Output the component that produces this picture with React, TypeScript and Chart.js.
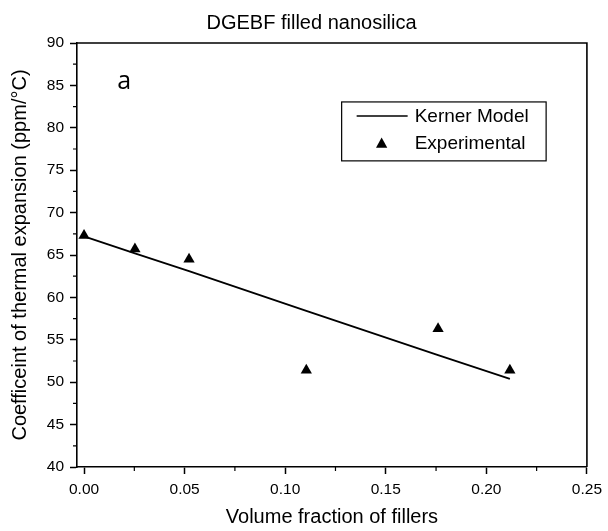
import React, { useEffect, useRef } from "react";
import { Chart, registerables } from "chart.js";

Chart.register(...registerables);

const chartTitle = "DGEBF filled nanosilica";
const xAxisTitle = "Volume fraction of fillers";
const yAxisTitle = "Coefficeint of thermal expansion (ppm/°C)";
const panelLabel = "a";
const seriesLabels = ["Kerner Model", "Experimental"];

const expX = [0, 0.0253, 0.0522, 0.1105, 0.176, 0.2117];
const expY = [67.3, 65.7, 64.5, 51.4, 56.3, 51.4];
const kernerX = [0, 0.0253, 0.0522, 0.1105, 0.176, 0.2117];
const kernerY = [67.2, 65.2, 63.1, 58.4, 53.2, 50.4];

const xTicks = [0, 0.05, 0.1, 0.15, 0.2, 0.25];
const yTicks = [40, 45, 50, 55, 60, 65, 70, 75, 80, 85, 90];
const xMinorTicks = [0.025, 0.075, 0.125, 0.175, 0.225];
const yMinorTicks = [42.5, 47.5, 52.5, 57.5, 62.5, 67.5, 72.5, 77.5, 82.5, 87.5];
const xRange = [-0.0035, 0.25];
const yRange = [40, 90];
const panelLabelAt = [0.02, 85.4];

const FONT = "'Liberation Sans', Arial, sans-serif";

const decorPlugin = {
  id: "decor",
  afterDraw(chart: any) {
    const { ctx, chartArea: ca, scales } = chart;
    const xs = scales.x;
    const ys = scales.y;
    ctx.save();
    ctx.strokeStyle = "#000";
    ctx.lineWidth = 1.6;
    ctx.beginPath();
    ctx.moveTo(ca.left, ca.top);
    ctx.lineTo(ca.right, ca.top);
    ctx.lineTo(ca.right, ca.bottom);
    ctx.stroke();

    ctx.lineWidth = 1.2;
    ctx.beginPath();
    xMinorTicks.forEach((v) => {
      const px = xs.getPixelForValue(v);
      ctx.moveTo(px, ca.bottom);
      ctx.lineTo(px, ca.bottom + 4);
    });
    yMinorTicks.forEach((v) => {
      const py = ys.getPixelForValue(v);
      ctx.moveTo(ca.left, py);
      ctx.lineTo(ca.left - 4, py);
    });
    ctx.stroke();

    // chart title
    ctx.fillStyle = "#000";
    ctx.font = `20px ${FONT}`;
    ctx.textAlign = "center";
    ctx.textBaseline = "middle";
    ctx.fillText(chartTitle, ca.left + (ca.right - ca.left) * 0.46, ca.top / 2 + 2);

    ctx.font = "25px 'Open Sans', sans-serif";
    ctx.fillText(panelLabel, xs.getPixelForValue(panelLabelAt[0]), ys.getPixelForValue(panelLabelAt[1]));

    // legend box
    const w = ca.right - ca.left;
    const h = ca.bottom - ca.top;
    const bl = ca.left + 0.519 * w;
    const br = ca.left + 0.92 * w;
    const bt = ca.top + 0.139 * h;
    const bb = ca.top + 0.278 * h;
    ctx.lineWidth = 1.2;
    ctx.strokeRect(bl, bt, br - bl, bb - bt);
    const row1 = bt + 14;
    const row2 = bt + 41;
    ctx.lineWidth = 1.6;
    ctx.beginPath();
    ctx.moveTo(bl + 15, row1);
    ctx.lineTo(bl + 66, row1);
    ctx.stroke();
    const tx = bl + 40;
    const r = 6.5;
    ctx.beginPath();
    ctx.moveTo(tx, row2 - r * 0.75 - 0.5);
    ctx.lineTo(tx + r * 0.866, row2 + r * 0.75);
    ctx.lineTo(tx - r * 0.866, row2 + r * 0.75);
    ctx.closePath();
    ctx.fill();
    ctx.font = `19px ${FONT}`;
    ctx.textAlign = "left";
    ctx.textBaseline = "middle";
    ctx.fillText(seriesLabels[0], bl + 73, row1 + 1);
    ctx.fillText(seriesLabels[1], bl + 73, row2 + 1);
    ctx.restore();
  },
};

export default function App() {
  const ref = useRef<HTMLCanvasElement | null>(null);
  useEffect(() => {
    if (!ref.current) return;
    const chart = new Chart(ref.current, {
      type: "scatter",
      data: {
        datasets: [
          {
            type: "line",
            label: seriesLabels[0],
            data: kernerX.map((x, i) => ({ x, y: kernerY[i] })),
            borderColor: "#000",
            borderWidth: 1.8,
            pointRadius: 0,
            fill: false,
            tension: 0,
          },
          {
            type: "scatter",
            label: seriesLabels[1],
            data: expX.map((x, i) => ({ x, y: expY[i] })),
            pointStyle: "triangle",
            pointRadius: 6.5,
            backgroundColor: "#000",
            borderColor: "#000",
            borderWidth: 0,
          },
        ],
      },
      options: {
        animation: false,
        responsive: true,
        maintainAspectRatio: false,
        layout: { padding: { left: 0, right: 20, top: 43, bottom: 0 } },
        plugins: {
          legend: { display: false },
          tooltip: { enabled: false },
          title: { display: false },
        },
        scales: {
          x: {
            type: "linear",
            min: xRange[0],
            max: xRange[1],
            afterBuildTicks: (s: any) => {
              s.ticks = xTicks.map((v) => ({ value: v }));
            },
            afterFit: (s: any) => {
              s.height = 64;
            },
            ticks: {
              color: "#000",
              font: { family: FONT, size: 15.5 },
              padding: 6,
              maxRotation: 0,
              callback: (v: any) => Number(v).toFixed(2),
            },
            grid: {
              drawOnChartArea: false,
              drawTicks: true,
              tickLength: 7,
              tickColor: "#000",
              tickWidth: 1.5,
            },
            border: { color: "#000", width: 1.6 },
            title: {
              display: true,
              text: xAxisTitle,
              color: "#000",
              font: { family: FONT, size: 20 },
              padding: { top: 0, bottom: 2 },
            },
          },
          y: {
            type: "linear",
            min: yRange[0],
            max: yRange[1],
            afterBuildTicks: (s: any) => {
              s.ticks = yTicks.map((v) => ({ value: v }));
            },
            afterFit: (s: any) => {
              s.width = 77;
            },
            ticks: {
              color: "#000",
              font: { family: FONT, size: 15.5 },
              padding: 6,
            },
            grid: {
              drawOnChartArea: false,
              drawTicks: true,
              tickLength: 7,
              tickColor: "#000",
              tickWidth: 1.5,
            },
            border: { color: "#000", width: 1.6 },
            title: {
              display: true,
              text: yAxisTitle,
              color: "#000",
              font: { family: FONT, size: 20 },
              padding: { top: 8, bottom: 0 },
            },
          },
        },
      },
      plugins: [decorPlugin],
    });
    return () => chart.destroy();
  }, []);
  return (
    <div style={{ position: "absolute", left: 0, top: 0, width: 608, height: 531, background: "#fff" }}>
      <canvas ref={ref} />
    </div>
  );
}
